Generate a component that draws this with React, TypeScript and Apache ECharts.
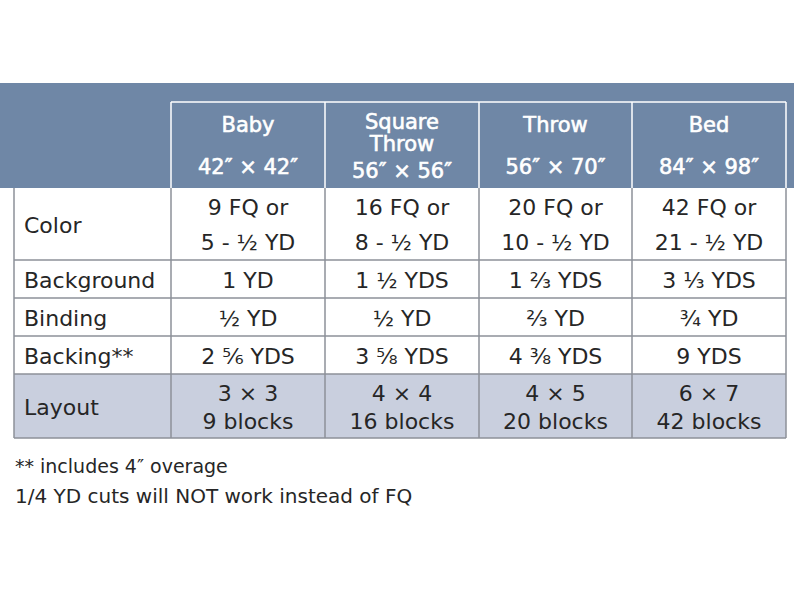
import React, { useEffect, useRef } from "react";
import * as echarts from "echarts";

const columnTitles = ["Baby", "Square\nThrow", "Throw", "Bed"];
const columnSizes = ["42″ × 42″", "56″ × 56″", "56″ × 70″", "84″ × 98″"];
const rowLabels = ["Color", "Background", "Binding", "Backing**", "Layout"];
const colorRow = ["9 FQ or\n5 - ½ YD", "16 FQ or\n8 - ½ YD", "20 FQ or\n10 - ½ YD", "42 FQ or\n21 - ½ YD"];
const backgroundRow = ["1 YD", "1 ½ YDS", "1 ⅔ YDS", "3 ⅓ YDS"];
const bindingRow = ["½ YD", "½ YD", "⅔ YD", "¾ YD"];
const backingRow = ["2 ⅚ YDS", "3 ⅝ YDS", "4 ⅜ YDS", "9 YDS"];
const layoutRow = ["3 × 3\n9 blocks", "4 × 4\n16 blocks", "4 × 5\n20 blocks", "6 × 7\n42 blocks"];
const footnotes = ["** includes 4″ overage", "1/4 YD cuts will NOT work instead of FQ"];

export default function App() {
  const ref = useRef<HTMLDivElement>(null);
  useEffect(() => {
    if (!ref.current) return;
    const chart = echarts.init(ref.current, null, { renderer: "svg" });
    const font = "'DejaVu Sans', 'Noto Sans', sans-serif";
    const textColor = "#262626";
    const gridColor = "#8c9099";
    const headerFill = "#6f87a6";
    const layoutFill = "#c9cfde";

    const colX = [171, 325, 479, 632, 786];
    const leftX = 14;
    const headerTop = 83;
    const headerCellTop = 102;
    const rowY = [188, 260, 298, 336, 374, 438];
    const rows = [colorRow, backgroundRow, bindingRow, backingRow, layoutRow];
    const lineHeights = [35, 0, 0, 0, 28];

    const els: any[] = [];
    els.push({ type: "rect", shape: { x: 0, y: headerTop, width: 794, height: rowY[0] - headerTop }, style: { fill: headerFill } });
    els.push({ type: "rect", shape: { x: leftX, y: rowY[4], width: colX[4] - leftX, height: rowY[5] - rowY[4] }, style: { fill: layoutFill } });

    const white = { stroke: "#ffffff", lineWidth: 1.5 };
    els.push({ type: "line", shape: { x1: colX[0], y1: headerCellTop, x2: colX[4], y2: headerCellTop }, style: white });
    colX.forEach((x) => els.push({ type: "line", shape: { x1: x, y1: headerCellTop, x2: x, y2: rowY[0] }, style: white }));

    const headStyle = { fill: "#ffffff", stroke: "#ffffff", lineWidth: 0.6, font: `400 21px ${font}`, align: "center", verticalAlign: "middle" };
    columnTitles.forEach((t, i) => {
      const cx = (colX[i] + colX[i + 1]) / 2;
      const two = t.includes("\n");
      els.push({ type: "text", style: { ...headStyle, x: cx, y: two ? 133 : 125, text: t, lineHeight: 22 } });
      els.push({ type: "text", style: { ...headStyle, x: cx, y: two ? 171 : 167, text: columnSizes[i] } });
    });

    const g = { stroke: gridColor, lineWidth: 1.5 };
    rowY.forEach((y, k) => {
      if (k === 0) return;
      els.push({ type: "line", shape: { x1: leftX, y1: y, x2: colX[4], y2: y }, style: g });
    });
    [leftX, ...colX].forEach((x) => els.push({ type: "line", shape: { x1: x, y1: rowY[0], x2: x, y2: rowY[5] }, style: g }));

    rowLabels.forEach((label, r) => {
      const cy = (rowY[r] + rowY[r + 1]) / 2 + 1;
      els.push({ type: "text", style: { x: 24, y: cy, text: label, fill: textColor, font: `400 22px ${font}`, align: "left", verticalAlign: "middle" } });
      rows[r].forEach((v, i) => {
        const cx = (colX[i] + colX[i + 1]) / 2;
        els.push({
          type: "text",
          style: { x: cx, y: cy, text: v, fill: textColor, font: `400 22px ${font}`, align: "center", verticalAlign: "middle", lineHeight: lineHeights[r] || 24 },
        });
      });
    });

    els.push({ type: "text", style: { x: 15, y: 466, text: footnotes[0], fill: textColor, font: `400 19px ${font}`, align: "left", verticalAlign: "middle" } });
    els.push({ type: "text", style: { x: 15, y: 496, text: footnotes[1], fill: textColor, font: `400 20px ${font}`, align: "left", verticalAlign: "middle" } });

    chart.setOption({ animation: false, backgroundColor: "#ffffff", graphic: { elements: els } });
    return () => chart.dispose();
  }, []);
  return <div ref={ref} style={{ position: "fixed", left: 0, top: 0, width: 794, height: 596 }} />;
}
